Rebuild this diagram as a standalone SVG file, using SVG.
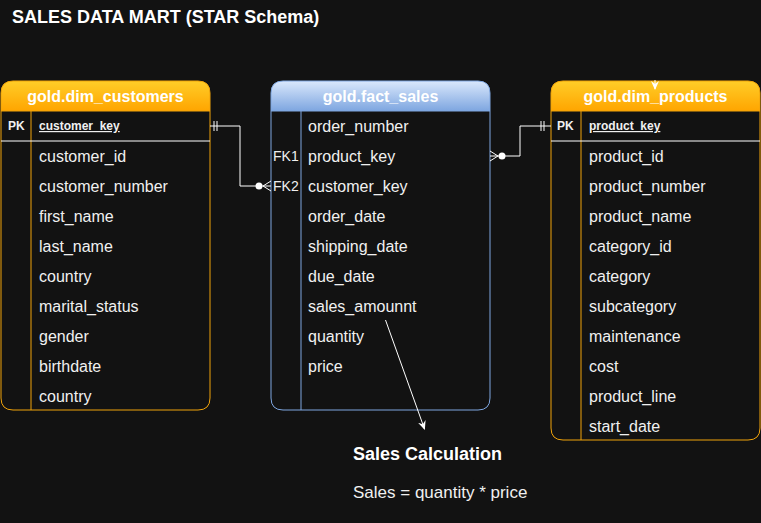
<svg xmlns="http://www.w3.org/2000/svg" width="761" height="523" viewBox="0 0 761 523">
<style>
text{font-family:"Liberation Sans",Arial,sans-serif}
.hdr{font-size:16px;font-weight:bold;fill:#fff;text-anchor:middle}
.row{font-size:16px;fill:#f0f0f0}
.pk{font-size:12px;font-weight:bold;fill:#f0f0f0}
.key{font-size:12px;font-weight:bold;fill:#f0f0f0;text-decoration:underline}
.fk{font-size:14px;fill:#f0f0f0}
.orl{stroke:#f0a30a;stroke-width:1;fill:none}
.bll{stroke:#7ea6e0;stroke-width:1;fill:none}
.wl{stroke:#ffffff;stroke-width:1;fill:none}
.conn{stroke:#ffffff;stroke-width:1;fill:none}
</style>
<defs>
<linearGradient id="gOr" x1="0" y1="0" x2="0" y2="1"><stop offset="0" stop-color="#ffcd28"/><stop offset="1" stop-color="#ffa500"/></linearGradient>
<linearGradient id="gBl" x1="0" y1="0" x2="0" y2="1"><stop offset="0" stop-color="#dae8fc"/><stop offset="1" stop-color="#7ea6e0"/></linearGradient>
<marker id="arr" markerWidth="10" markerHeight="10" refX="8" refY="5" orient="auto" markerUnits="userSpaceOnUse"><path d="M0,1 L9,5 L0,9 L3,5 Z" fill="#fff"/></marker>
</defs>
<rect width="761" height="523" fill="#121212"/>
<text x="12" y="23" style="font-size:18px;font-weight:bold;fill:#fff">SALES DATA MART (STAR Schema)</text>

<g id="dim_customers">
<path d="M1,111 V93 Q1,81 13,81 H198 Q210,81 210,93 V111 Z" fill="url(#gOr)"/>
<path d="M1,111 H210 V398 Q210,410 198,410 H13 Q1,410 1,398 Z" fill="#121212"/>
<path class="orl" d="M1,111 V93 Q1,81 13,81 H198 Q210,81 210,93 V398 Q210,410 198,410 H13 Q1,410 1,398 Z"/>
<line class="orl" x1="1" y1="111" x2="210" y2="111"/>
<line class="orl" x1="31" y1="111" x2="31" y2="410"/>
<line class="wl" x1="1" y1="141" x2="210" y2="141"/>
<text class="hdr" x="105.5" y="102">gold.dim_customers</text>
<text class="pk" x="8" y="130">PK</text>
<text class="key" x="39" y="130">customer_key</text>
<text class="row" x="39" y="162">customer_id</text>
<text class="row" x="39" y="192">customer_number</text>
<text class="row" x="39" y="222">first_name</text>
<text class="row" x="39" y="252">last_name</text>
<text class="row" x="39" y="282">country</text>
<text class="row" x="39" y="312">marital_status</text>
<text class="row" x="39" y="342">gender</text>
<text class="row" x="39" y="372">birthdate</text>
<text class="row" x="39" y="402">country</text>
</g>

<g id="fact_sales">
<path d="M271,111 V93 Q271,81 283,81 H478 Q490,81 490,93 V111 Z" fill="url(#gBl)"/>
<path d="M271,111 H490 V398 Q490,410 478,410 H283 Q271,410 271,398 Z" fill="#121212"/>
<path class="bll" d="M271,111 V93 Q271,81 283,81 H478 Q490,81 490,93 V398 Q490,410 478,410 H283 Q271,410 271,398 Z"/>
<line class="bll" x1="271" y1="111" x2="490" y2="111"/>
<line class="bll" x1="301" y1="111" x2="301" y2="410"/>
<text class="hdr" x="380.5" y="102">gold.fact_sales</text>
<text class="row" x="308" y="132">order_number</text>
<text class="fk" x="273" y="161">FK1</text>
<text class="row" x="308" y="162">product_key</text>
<text class="fk" x="273" y="191">FK2</text>
<text class="row" x="308" y="192">customer_key</text>
<text class="row" x="308" y="222">order_date</text>
<text class="row" x="308" y="252">shipping_date</text>
<text class="row" x="308" y="282">due_date</text>
<text class="row" x="308" y="312">sales_amounnt</text>
<text class="row" x="308" y="342">quantity</text>
<text class="row" x="308" y="372">price</text>
</g>

<g id="dim_products">
<path d="M551,111 V93 Q551,81 563,81 H748 Q760,81 760,93 V111 Z" fill="url(#gOr)"/>
<path d="M551,111 H760 V428 Q760,440 748,440 H563 Q551,440 551,428 Z" fill="#121212"/>
<path class="orl" d="M551,111 V93 Q551,81 563,81 H748 Q760,81 760,93 V428 Q760,440 748,440 H563 Q551,440 551,428 Z"/>
<line class="orl" x1="551" y1="111" x2="760" y2="111"/>
<line class="orl" x1="581" y1="111" x2="581" y2="440"/>
<line class="wl" x1="551" y1="141" x2="760" y2="141"/>
<text class="hdr" x="655.5" y="102">gold.dim_products</text>
<text class="pk" x="557" y="130">PK</text>
<text class="key" x="589" y="130">product_key</text>
<text class="row" x="589" y="162">product_id</text>
<text class="row" x="589" y="192">product_number</text>
<text class="row" x="589" y="222">product_name</text>
<text class="row" x="589" y="252">category_id</text>
<text class="row" x="589" y="282">category</text>
<text class="row" x="589" y="312">subcategory</text>
<text class="row" x="589" y="342">maintenance</text>
<text class="row" x="589" y="372">cost</text>
<text class="row" x="589" y="402">product_line</text>
<text class="row" x="589" y="432">start_date</text>
</g>

<g id="sales_calc">
<text x="353" y="460" style="font-size:18px;font-weight:bold;fill:#fff">Sales Calculation</text>
<text x="353" y="498" style="font-size:17px;fill:#f0f0f0">Sales = quantity * price</text>
</g>

<g id="connectors">
<path class="conn" d="M210,126 H240 V186 H271"/>
<line class="conn" x1="214" y1="121" x2="214" y2="131"/>
<line class="conn" x1="217" y1="121" x2="217" y2="131"/>
<circle cx="259" cy="186" r="3.5" fill="#fff"/>
<path class="conn" d="M271,181 L263,186 L271,191"/>
<path class="conn" d="M490,156 H520 V126 H551"/>
<line class="conn" x1="541" y1="121" x2="541" y2="131"/>
<line class="conn" x1="544" y1="121" x2="544" y2="131"/>
<circle cx="502" cy="156" r="3.5" fill="#fff"/>
<path class="conn" d="M490,151 L498,156 L490,161"/>
<line class="conn" x1="385.5" y1="320" x2="424.5" y2="429" marker-end="url(#arr)"/>
<line class="conn" x1="655" y1="80" x2="655" y2="89" marker-end="url(#arr)"/>
</g>
</svg>
